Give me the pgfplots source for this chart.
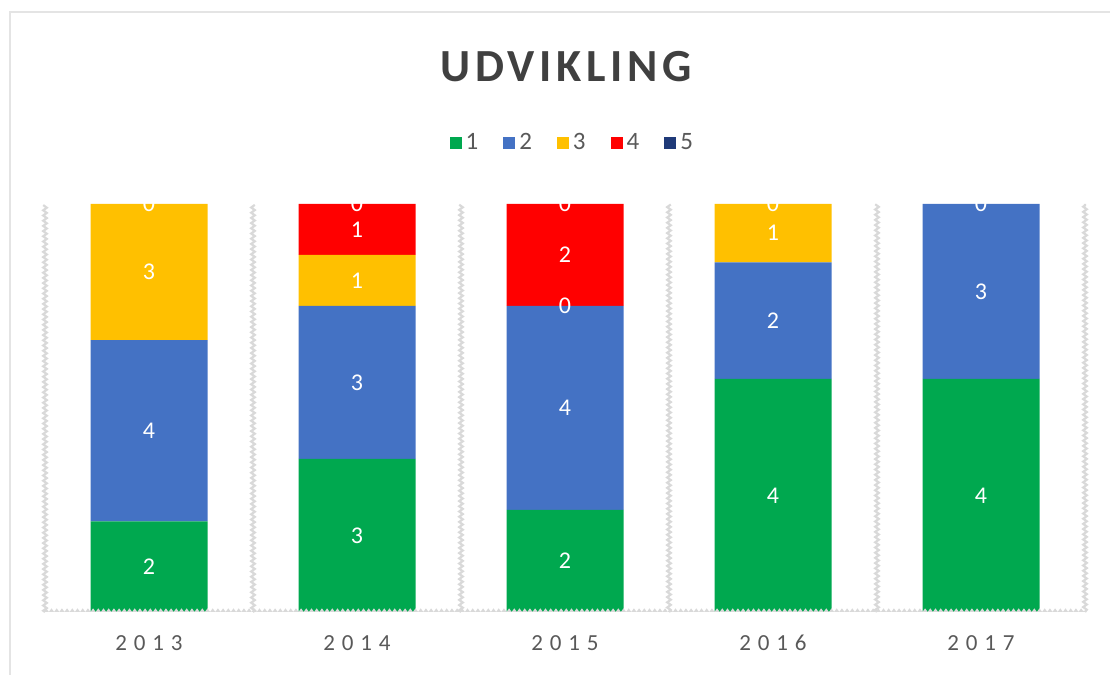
\documentclass[border=0pt]{standalone}
\usepackage{pgfplots}
\pgfplotsset{compat=1.18}
\usepackage{fontspec}
\setmainfont{Carlito}
\usetikzlibrary{decorations.pathmorphing}
\definecolor{cg}{HTML}{00A84F}
\definecolor{cb}{HTML}{4472C4}
\definecolor{cy}{HTML}{FFC000}
\definecolor{cr}{HTML}{FF0000}
\definecolor{cn}{HTML}{1F3A78}
\definecolor{gridc}{HTML}{D9D9D9}
\definecolor{txt}{HTML}{595959}
\definecolor{ttl}{HTML}{404040}
\newcommand\px[2]{({0.5pt*#1},{0.5pt*(675-#2)})}
\pgfplotsset{common/.style={
  at={(22.5pt,31.5pt)}, anchor=south west,
  width=520pt, height=204pt, scale only axis,
  xmin=-0.5, xmax=4.5, ymin=0, ymax=100}}
\begin{document}
\begin{tikzpicture}
\path[use as bounding box] \px{0}{0} rectangle \px{1110}{675};
\draw[gridc!70, line width=1pt] \px{10}{700} -- \px{10}{12} -- \px{1130}{12};
\begin{axis}[
  common,
  ybar stacked, bar width=0.5625,
  xtick={0,...,4}, xticklabels={2013,2014,2015,2016,2017},
  minor xtick={-0.5,0.5,...,4.5},
  xminorgrids,
  minor grid style={gridc, line width=1.1pt, decorate, decoration={zigzag,amplitude=0.9pt,segment length=2.6pt}},
  ytick=\empty,
  axis line style={draw=none},
  major tick length=0pt, minor tick length=0pt,
  xticklabel style={font=\fontsize{11.5}{12}\selectfont\addfontfeatures{LetterSpace=30}, text=txt, anchor=center, yshift=-15.5pt},
  legend style={at={(0.508,1.1495)}, anchor=center, draw=none, fill=none, font=\fontsize{12.5}{13}\selectfont, text=txt, /tikz/every even column/.append style={column sep=10.5pt}},
  legend columns=5,
  legend image code/.code={\fill[#1, draw=none] (0pt,-3pt) rectangle (6pt,3pt);},
]
\draw[gridc, line width=1.1pt, decorate, decoration={zigzag,amplitude=0.9pt,segment length=2.6pt}] (axis cs:-0.5,0) -- (axis cs:4.5,0);
\addplot[fill=cg, draw=none] coordinates {(0,22.22) (1,37.5) (2,25) (3,57.14) (4,57.14)};
\addplot[fill=cb, draw=none] coordinates {(0,44.44) (1,37.5) (2,50) (3,28.57) (4,42.86)};
\addplot[fill=cy, draw=none] coordinates {(0,33.34) (1,12.5) (2,0) (3,14.29) (4,0)};
\addplot[fill=cr, draw=none] coordinates {(0,0) (1,12.5) (2,25) (3,0) (4,0)};
\addplot[fill=cn, draw=none] coordinates {(0,0) (1,0) (2,0) (3,0) (4,0)};
\legend{1,2,3,4,5}
\end{axis}
\begin{axis}[common, hide axis, clip=false]
\addplot[only marks, mark=none, nodes near coords, point meta=explicit symbolic,
  every node near coord/.style={anchor=center, font=\fontsize{12}{12}\selectfont, text=white}]
  coordinates {
  (0,11.11)[2] (0,44.44)[4] (0,83.33)[3] (0,100)[0]
  (1,18.75)[3] (1,56.25)[3] (1,81.25)[1] (1,93.75)[1] (1,100)[0]
  (2,12.5)[2] (2,50)[4] (2,75)[0] (2,87.5)[2] (2,100)[0]
  (3,28.57)[4] (3,71.43)[2] (3,92.86)[1] (3,100)[0]
  (4,28.57)[4] (4,78.57)[3] (4,100)[0]
  };
\end{axis}
\fill[white] \px{40}{175} rectangle \px{1090}{203.5};
\node[font=\fontsize{23}{24}\selectfont\bfseries\addfontfeatures{LetterSpace=10}, text=ttl] at \px{566}{67} {UDVIKLING};
\end{tikzpicture}
\end{document}
